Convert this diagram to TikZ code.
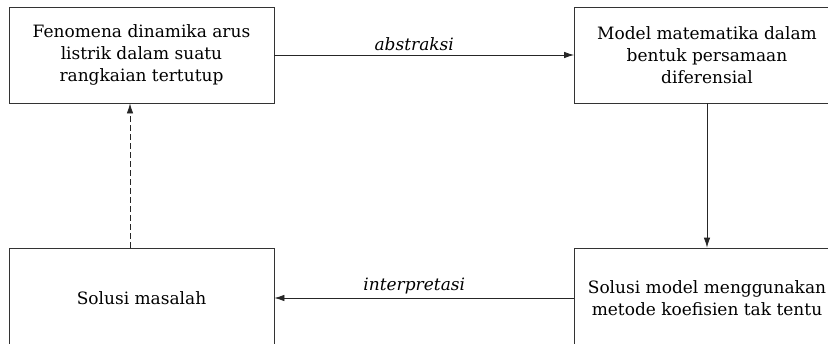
\documentclass[tikz,border=0pt]{standalone}
\usepackage{fontspec}
\setmainfont{DejaVu Serif}
\usetikzlibrary{arrows.meta}

\begin{document}
\begin{tikzpicture}[x=1pt,y=-1pt]
    \pgfmathsetmacro{\boxwidth}{265}
    \pgfmathsetmacro{\boxheight}{96}
    \pgfmathsetmacro{\lowboxheight}{100}
    \providecommand{\boxfontsize}{\fontsize{17pt}{22pt}\selectfont}
    \tikzset{
        box/.style={draw=black!80,line width=0.8pt,minimum width=\boxwidth pt,minimum height=\boxheight pt,align=center,inner sep=0pt,font=\boxfontsize},
        lowbox/.style={box,minimum height=\lowboxheight pt},
        link/.style={draw=black!85,line width=0.8pt,-{Latex[length=10pt,width=6.5pt]}},
        tag/.style={font=\boxfontsize\itshape,above,inner sep=4pt,xshift=-10pt}
    }
    \clip (0,0) rectangle (828,343);
    \node[box](fenomena) at (141.5,55) {Fenomena dinamika arus\\listrik dalam suatu\\rangkaian tertutup};
    \node[box](model) at (707,55) {Model matematika dalam\\bentuk persamaan\\diferensial};
    \node[lowbox](solusi) at (141.5,298) {Solusi masalah};
    \node[lowbox](metode) at (707,298) {Solusi model menggunakan\\metode koefisien tak tentu};
    \draw[link] (fenomena) -- node[tag]{abstraksi} (model);
    \draw[link] (model) -- (metode);
    \draw[link] (metode) -- node[tag]{interpretasi} (solusi);
    % dashed return path, off centre
    \draw[link,dash pattern=on 6pt off 3pt] (solusi.north -| 130,0) -- (fenomena.south -| 130,0);
\end{tikzpicture}
\end{document}
